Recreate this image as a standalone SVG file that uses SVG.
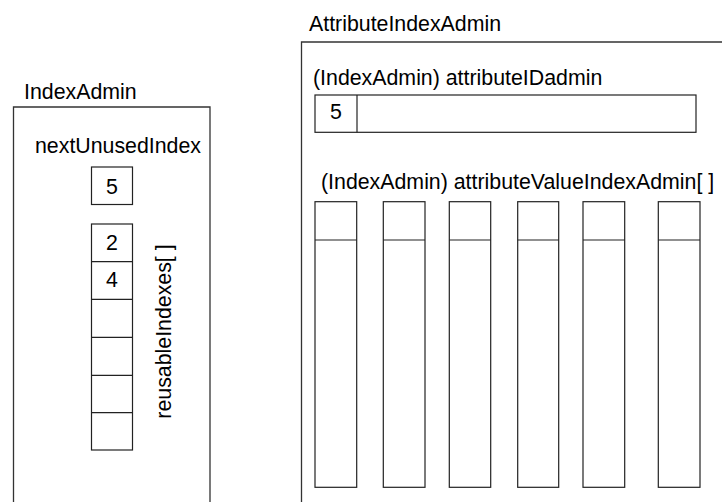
<svg xmlns="http://www.w3.org/2000/svg" width="722" height="502" viewBox="0 0 722 502">
<style>
text{font-family:"Liberation Sans",Arial,sans-serif;font-size:21.33px;fill:#000}
.fr{fill:none;stroke:#333;stroke-width:1.3}
.c{fill:#fff;stroke:#222;stroke-width:1.2}
.ln{stroke:#222;stroke-width:1.2}
.m{text-anchor:middle}
</style>
<rect width="722" height="502" fill="#fff"/>
<g id="indexAdmin">
<path class="fr" d="M13.5,502 V107 H210 V502"/>
<text x="24" y="99">IndexAdmin</text>
<text x="35" y="153">nextUnusedIndex</text>
<rect class="c" x="91.5" y="167" width="41" height="37.5"/>
<text class="m" x="112" y="193.5">5</text>
<g id="reusableIndexes">
<rect class="c" x="91.5" y="224" width="41" height="226"/>
<line class="ln" x1="91.5" y1="261.7" x2="132.5" y2="261.7"/>
<line class="ln" x1="91.5" y1="299.3" x2="132.5" y2="299.3"/>
<line class="ln" x1="91.5" y1="337.3" x2="132.5" y2="337.3"/>
<line class="ln" x1="91.5" y1="375.3" x2="132.5" y2="375.3"/>
<line class="ln" x1="91.5" y1="412.7" x2="132.5" y2="412.7"/>
<text class="m" x="112" y="250">2</text>
<text class="m" x="112" y="287">4</text>
<text class="m" transform="translate(171,331.5) rotate(-90)">reusableIndexes[ ]</text>
</g>
</g>
<g id="attributeIndexAdmin">
<path class="fr" d="M301.5,502 V42 H722"/>
<text x="309" y="31">AttributeIndexAdmin</text>
<text x="313" y="85">(IndexAdmin) attributeIDadmin</text>
<g id="attributeIDadmin">
<rect class="c" x="315" y="95" width="381" height="37.3"/>
<line class="ln" x1="357" y1="95" x2="357" y2="132.3"/>
<text class="m" x="336" y="119.3">5</text>
</g>
<text x="321" y="188.5">(IndexAdmin) attributeValueIndexAdmin[ ]</text>
<g id="attributeValueIndexAdmin">
<rect class="c" x="315" y="201.7" width="41.7" height="285.6"/>
<line class="ln" x1="315" y1="240" x2="356.7" y2="240"/>
<rect class="c" x="383.3" y="201.7" width="41.7" height="285.6"/>
<line class="ln" x1="383.3" y1="240" x2="425" y2="240"/>
<rect class="c" x="449.3" y="201.7" width="41.4" height="285.6"/>
<line class="ln" x1="449.3" y1="240" x2="490.7" y2="240"/>
<rect class="c" x="517.7" y="201.7" width="41" height="285.6"/>
<line class="ln" x1="517.7" y1="240" x2="558.7" y2="240"/>
<rect class="c" x="583" y="201.7" width="41.7" height="285.6"/>
<line class="ln" x1="583" y1="240" x2="624.7" y2="240"/>
<rect class="c" x="658.3" y="201.7" width="41.7" height="285.6"/>
<line class="ln" x1="658.3" y1="240" x2="700" y2="240"/>
</g>
</g>
<g id="connectors"/>
</svg>
